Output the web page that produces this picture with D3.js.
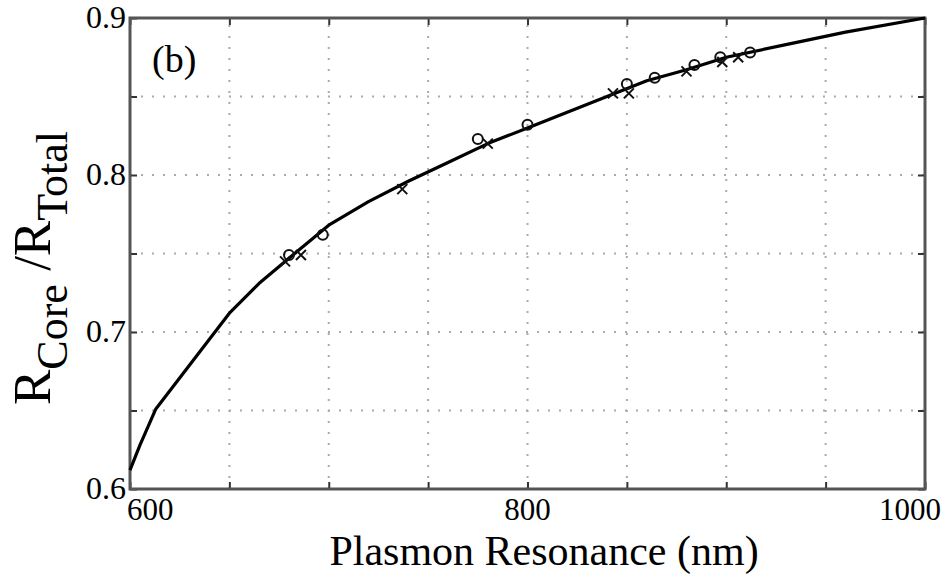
<!DOCTYPE html>
<html>
<head>
<meta charset="utf-8">
<script src="https://cdn.jsdelivr.net/npm/d3@7"></script>
<style>
  body { margin: 0; background: #fff; }
  svg { display: block; }
</style>
</head>
<body>
<svg id="chart" width="952" height="574"></svg>
<script>
// Fitted curve (nm, ratio)
const curveX = [600, 605, 613, 630, 650, 665, 680, 700, 720, 740, 760, 780, 800, 820, 840, 860, 880, 900, 930, 960, 1000];
const curveY = [0.612, 0.628, 0.651, 0.679, 0.712, 0.731, 0.747, 0.768, 0.783, 0.796, 0.808, 0.820, 0.830, 0.840, 0.850, 0.860, 0.867, 0.875, 0.883, 0.891, 0.900];
// Circle markers
const circX = [680, 697, 775, 800, 850, 864, 884, 897, 912];
const circY = [0.749, 0.762, 0.823, 0.832, 0.858, 0.862, 0.870, 0.875, 0.878];
// Cross markers
const crossX = [678, 686, 737, 780, 843, 851, 880, 898, 906];
const crossY = [0.745, 0.749, 0.791, 0.820, 0.852, 0.852, 0.866, 0.872, 0.875];
// Ticks
const xTicks = [600, 650, 700, 750, 800, 850, 900, 950, 1000];
const xTickLabels = ["600", "", "", "", "800", "", "", "", "1000"];
const yTicks = [0.6, 0.65, 0.7, 0.75, 0.8, 0.85, 0.9];
const yTickLabels = ["0.6", "", "0.7", "", "0.8", "", "0.9"];

const FONT = "'Liberation Serif', serif";
const W = 952, H = 574;
const m = {left: 130, right: 27, top: 18, bottom: 85};
const svg = d3.select("#chart");
const x = d3.scaleLinear().domain([600, 1000]).range([m.left, W - m.right]);
const y = d3.scaleLinear().domain([0.6, 0.9]).range([H - m.bottom, m.top]);

// grid
const grid = svg.append("g");
grid.selectAll(".vg").data(xTicks.slice(1, -1)).join("line")
  .attr("x1", d => x(d)).attr("x2", d => x(d))
  .attr("y1", y(0.6)).attr("y2", y(0.9))
  .attr("stroke", "#aaa").attr("stroke-width", 2).attr("stroke-dasharray", "2,9");
grid.selectAll(".hg").data(yTicks.slice(1, -1)).join("line")
  .attr("x1", x(600)).attr("x2", x(1000))
  .attr("y1", d => y(d)).attr("y2", d => y(d))
  .attr("stroke", "#aaa").attr("stroke-width", 2).attr("stroke-dasharray", "2,9");

// axes with inward ticks
const tl = 7;
function styleAxis(g) {
  g.select(".domain").remove();
  g.selectAll("line").attr("stroke", "#333").attr("stroke-width", 2);
}
svg.append("g").attr("transform", `translate(0,${y(0.6)})`)
  .call(d3.axisBottom(x).tickValues(xTicks).tickSize(-tl).tickFormat("")).call(styleAxis);
svg.append("g").attr("transform", `translate(0,${y(0.9)})`)
  .call(d3.axisTop(x).tickValues(xTicks).tickSize(-tl).tickFormat("")).call(styleAxis);
svg.append("g").attr("transform", `translate(${x(600)},0)`)
  .call(d3.axisLeft(y).tickValues(yTicks).tickSize(-tl).tickFormat("")).call(styleAxis);
svg.append("g").attr("transform", `translate(${x(1000)},0)`)
  .call(d3.axisRight(y).tickValues(yTicks).tickSize(-tl).tickFormat("")).call(styleAxis);

// frame
svg.append("rect")
  .attr("x", x(600)).attr("y", y(0.9))
  .attr("width", x(1000) - x(600)).attr("height", y(0.6) - y(0.9))
  .attr("fill", "none").attr("stroke", "#555").attr("stroke-width", 3);

// tick labels
const xl = svg.append("g");
xTicks.forEach((t, i) => {
  if (!xTickLabels[i]) return;
  const anchor = i === 0 ? "start" : (i === xTicks.length - 1 ? "end" : "middle");
  xl.append("text")
    .attr("x", x(t) + (i === 0 ? -3 : (i === xTicks.length - 1 ? 16 : 0)))
    .attr("y", y(0.6) + 31)
    .attr("text-anchor", anchor)
    .attr("font-family", FONT).style("font-family", FONT)
    .attr("font-size", 31)
    .text(xTickLabels[i]);
});
const yl = svg.append("g");
yTicks.forEach((t, i) => {
  if (!yTickLabels[i]) return;
  yl.append("text")
    .attr("x", x(600) - 4).attr("y", y(t) + 10)
    .attr("text-anchor", "end")
    .attr("font-family", FONT).style("font-family", FONT)
    .attr("font-size", 32)
    .text(yTickLabels[i]);
});

// curve
const pts = curveX.map((d, i) => [d, curveY[i]]);
svg.append("path").datum(pts)
  .attr("fill", "none").attr("stroke", "#000").attr("stroke-width", 3.2)
  .attr("stroke-linejoin", "round")
  .attr("d", d3.line().x(d => x(d[0])).y(d => y(d[1])));

// circles
svg.selectAll(".c").data(circX.map((d, i) => [d, circY[i]])).join("circle")
  .attr("cx", d => x(d[0])).attr("cy", d => y(d[1])).attr("r", 5)
  .attr("fill", "none").attr("stroke", "#111").attr("stroke-width", 2);
// crosses
const cr = 5;
svg.selectAll(".x").data(crossX.map((d, i) => [d, crossY[i]])).join("path")
  .attr("d", d => {
    const cx = x(d[0]), cy = y(d[1]);
    return `M${cx - cr},${cy - cr}L${cx + cr},${cy + cr}M${cx - cr},${cy + cr}L${cx + cr},${cy - cr}`;
  })
  .attr("stroke", "#111").attr("stroke-width", 2).attr("fill", "none");

// panel label
svg.append("text").attr("x", 152).attr("y", 72)
  .attr("font-family", FONT).style("font-family", FONT).attr("font-size", 38).text("(b)");

// axis titles
svg.append("text").attr("x", 544).attr("y", 564.5).attr("text-anchor", "middle")
  .attr("font-family", FONT).style("font-family", FONT).attr("font-size", 42).text("Plasmon Resonance (nm)");

const yt = svg.append("text")
  .attr("transform", "translate(50,268) rotate(-90)")
  .attr("text-anchor", "middle").attr("font-family", FONT).style("font-family", FONT).attr("font-size", 53);
yt.append("tspan").text("R");
yt.append("tspan").attr("font-size", 44).attr("dy", 17).text("Core");
yt.append("tspan").attr("dy", -17).text(" /R");
yt.append("tspan").attr("font-size", 44).attr("dy", 17).text("Total");
</script>
</body>
</html>
